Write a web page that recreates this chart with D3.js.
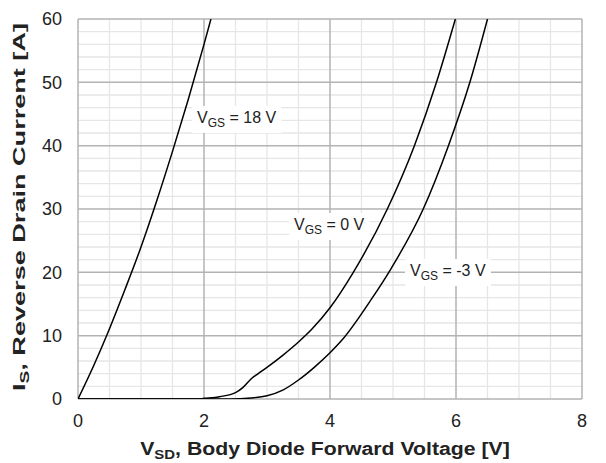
<!DOCTYPE html>
<html>
<head>
<meta charset="utf-8">
<script src="https://cdn.jsdelivr.net/npm/d3@7"></script>
<style>
  body { margin: 0; background: #fff; }
  text { font-family: Arial, "Liberation Sans", sans-serif; }
</style>
</head>
<body>
<svg id="chart"></svg>
<script>
// Data (V_SD in V, I_S in A)
const vgs18V = [0, 0.25, 0.5, 0.75, 1.0, 1.25, 1.5, 1.75, 2.0, 2.11];
const vgs18I = [0, 5.3, 11.1, 17.4, 24.0, 31.3, 39.1, 47.3, 56.0, 60];

const vgs0V = [0, 1.9, 2.0, 2.25, 2.5, 2.62, 2.75, 2.86, 3.0, 3.25, 3.5, 3.71, 4.0, 4.37, 4.91, 5.34, 5.69, 5.99];
const vgs0I = [0, 0, 0.1, 0.37, 1.0, 1.84, 3.2, 4.0, 5.0, 6.9, 9.0, 11.0, 14.4, 20, 30, 40, 50, 60];

const vgsM3V = [0, 2.4, 2.75, 3.0, 3.25, 3.5, 3.75, 4.0, 4.19, 4.66, 4.97, 5.48, 5.88, 6.22, 6.5];
const vgsM3I = [0, 0, 0.15, 0.5, 1.4, 3.0, 5.0, 7.3, 9.3, 15.8, 20.6, 30, 40, 50, 60];

const xTicks = [0, 2, 4, 6, 8];
const yTicks = [0, 10, 20, 30, 40, 50, 60];

const series = [
    {name: "18 V", v: vgs18V, i: vgs18I, label: [197, 123]},
    {name: "0 V",  v: vgs0V,  i: vgs0I,  label: [294, 230]},
    {name: "-3 V", v: vgsM3V, i: vgsM3I, label: [410, 276]}
];

const width = 606, height = 463;
const margin = {left: 78, right: 24, top: 19, bottom: 64};

const svg = d3.select("#chart")
    .attr("width", width)
    .attr("height", height);

const x = d3.scaleLinear().domain([0, 8]).range([margin.left, width - margin.right]);
const y = d3.scaleLinear().domain([0, 60]).range([height - margin.bottom, margin.top]);

// Minor grid
svg.append("g")
    .selectAll("line")
    .data(d3.range(0, 8.01, 0.5).filter(d => d % 2 !== 0))
    .join("line")
        .attr("x1", d => x(d)).attr("x2", d => x(d))
        .attr("y1", y(0)).attr("y2", y(60))
        .style("stroke", "#e6e6e6").style("stroke-width", "1.3px");
svg.append("g")
    .selectAll("line")
    .data(d3.range(0, 60.01, 2).filter(d => d % 10 !== 0))
    .join("line")
        .attr("x1", x(0)).attr("x2", x(8))
        .attr("y1", d => y(d)).attr("y2", d => y(d))
        .style("stroke", "#e6e6e6").style("stroke-width", "1.3px");

// Major grid
svg.append("g")
    .selectAll("line")
    .data(xTicks)
    .join("line")
        .attr("x1", d => x(d)).attr("x2", d => x(d))
        .attr("y1", y(0)).attr("y2", y(60))
        .style("stroke", "#b3b3b3").style("stroke-width", "1.5px");
svg.append("g")
    .selectAll("line")
    .data(yTicks)
    .join("line")
        .attr("x1", x(0)).attr("x2", x(8))
        .attr("y1", d => y(d)).attr("y2", d => y(d))
        .style("stroke", "#b3b3b3").style("stroke-width", "1.5px");

// Tick labels
svg.append("g")
    .selectAll("text")
    .data(xTicks)
    .join("text")
        .attr("x", d => x(d))
        .attr("y", y(0) + 28)
        .attr("text-anchor", "middle")
        .style("font-size", "18px")
        .attr("fill", "#222")
        .text(d => d);
svg.append("g")
    .selectAll("text")
    .data(yTicks)
    .join("text")
        .attr("x", x(0) - 16)
        .attr("y", d => y(d))
        .attr("dy", "0.36em")
        .attr("text-anchor", "end")
        .style("font-size", "18px")
        .attr("fill", "#222")
        .text(d => d);

// Curves
svg.append("clipPath").attr("id", "clip")
    .append("rect")
        .attr("x", x(0)).attr("y", y(60))
        .attr("width", x(8) - x(0)).attr("height", y(0) - y(60));

const line = d3.line()
    .x(d => x(d[0]))
    .y(d => y(d[1]))
    .curve(d3.curveMonotoneX);

svg.append("g")
    .attr("clip-path", "url(#clip)")
    .selectAll("path")
    .data(series)
    .join("path")
        .attr("d", s => line(s.v.map((v, k) => [v, s.i[k]])))
        .style("fill", "none")
        .style("stroke", "#000")
        .style("stroke-width", "1.5px");

// Series labels with white boxes
series.forEach(s => {
    let g = svg.append("g");
    let t = g.append("text")
        .attr("x", s.label[0])
        .attr("y", s.label[1])
        .style("font-size", "16px")
        .attr("fill", "#222");
    t.append("tspan").text("V");
    t.append("tspan").attr("dy", 4).style("font-size", "12px").text("GS");
    t.append("tspan").attr("dy", -4).text(" = " + s.name);
    let bb = t.node().getBBox();
    g.insert("rect", "text")
        .attr("x", bb.x - 5).attr("y", bb.y - 3)
        .attr("width", bb.width + 10).attr("height", bb.height + 6)
        .attr("fill", "#fff");
});

// Axis titles, stretched along their length to the reference span
function stretchTitle (g, len) {
    let t = g.select("text");
    let w = t.node().getBBox().width;
    t.attr("transform", "scale(" + (len / w) + ",1)");
}

let xg = svg.append("g").attr("transform", "translate(325,455)");
let xt = xg.append("text")
    .attr("text-anchor", "middle")
    .style("font-size", "18.5px")
    .style("font-weight", "bold")
    .attr("fill", "#222");
xt.append("tspan").text("V");
xt.append("tspan").attr("dy", 4).style("font-size", "13px").text("SD");
xt.append("tspan").attr("dy", -4).text(", Body Diode Forward Voltage [V]");
stretchTitle(xg, 370);

let yg = svg.append("g").attr("transform", "translate(25,207) rotate(-90)");
let yt = yg.append("text")
    .attr("text-anchor", "middle")
    .style("font-size", "17px")
    .style("font-weight", "bold")
    .attr("fill", "#222");
yt.append("tspan").text("I");
yt.append("tspan").attr("dy", 4).style("font-size", "12px").text("S");
yt.append("tspan").attr("dy", -4).text(", Reverse Drain Current [A]");
stretchTitle(yg, 368);
</script>
</body>
</html>
